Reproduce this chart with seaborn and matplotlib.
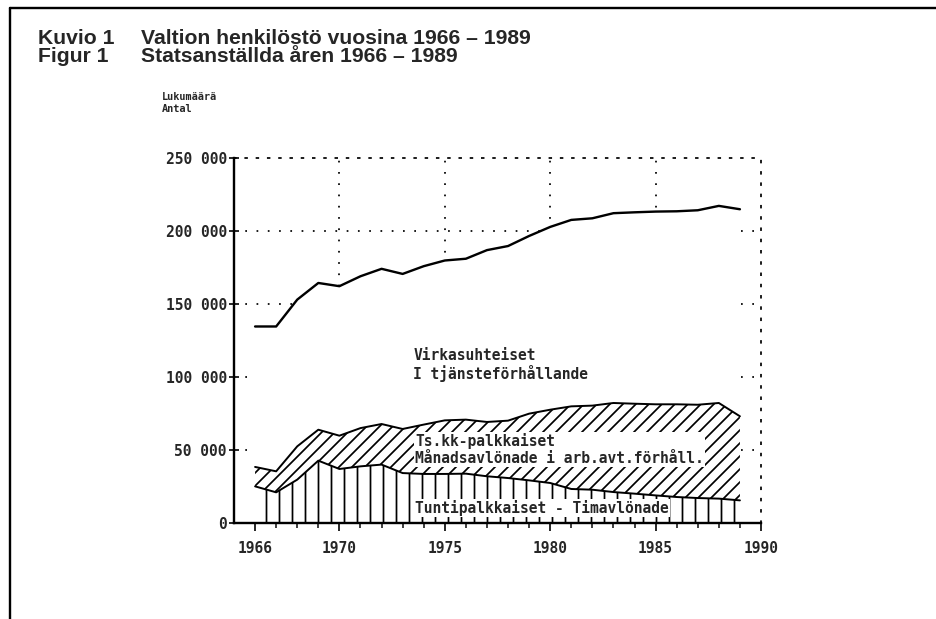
import matplotlib
matplotlib.use("Agg")
import matplotlib.pyplot as plt
import seaborn as sns
import pandas as pd
from matplotlib.lines import Line2D
from matplotlib.ticker import FixedLocator

# ---- data ----
years = list(range(1966, 1990))
total = [134600, 134600, 153000, 164400, 162200, 169000, 174100, 170600,
         175900, 179800, 181000, 186900, 189700, 196600, 202800, 207600,
         208700, 212200, 212800, 213300, 213500, 214200, 217200, 214900]
hourly = [25100, 21000, 29700, 42700, 37000, 38800, 40000, 34200, 33600,
          33600, 33800, 32000, 30800, 29200, 27400, 23300, 22800, 21200,
          20100, 18900, 17800, 17100, 16700, 15500]
monthly = [13300, 14400, 22800, 21200, 22800, 26200, 27800, 30200, 33800,
           36700, 37000, 37200, 39300, 45700, 50200, 56600, 57600, 61000,
           61600, 62400, 63500, 63900, 65500, 57600]
year_ticks = [1966, 1970, 1975, 1980, 1985, 1990]
year_labels = ["1966", "1970", "1975", "1980", "1985", "1990"]
y_ticks = [0, 50000, 100000, 150000, 200000, 250000]
y_labels = ["0", "50 000", "100 000", "150 000", "200 000", "250 000"]

title_nums = ["Kuvio 1", "Figur 1"]
title_texts = ["Valtion henkilöstö vuosina 1966 – 1989",
               "Statsanställda åren 1966 – 1989"]
ylabel_text = "Lukumäärä\nAntal"
label_virka = ["Virkasuhteiset", "I tjänsteförhållande"]
label_month = "Ts.kk-palkkaiset\nMånadsavlönade i arb.avt.förhåll."
label_hour = "Tuntipalkkaiset - Timavlönade"

df = pd.DataFrame({"year": years, "total": total,
                   "hourly": hourly, "monthly": monthly})
df["stack_top"] = df["hourly"] + df["monthly"]

# ---- style ----
sns.set_style("white")
plt.rcParams["font.family"] = ["DejaVu Sans Mono", "DejaVu Sans"]
plt.rcParams["font.weight"] = "bold"
plt.rcParams["hatch.linewidth"] = 1.6
plt.rcParams["hatch.color"] = "black"

DPI = 78
fig = plt.figure(figsize=(936 / DPI, 619 / DPI), dpi=DPI)
ax = fig.add_axes([234 / 936, 1 - 523 / 619, (761 - 234) / 936, (523 - 158) / 619])

ax.set_xlim(1965, 1990)
ax.set_ylim(0, 250000)

dot = (0, (1, 5.5))
# dotted grid
for yv in [50000, 100000, 150000, 200000]:
    ax.axhline(yv, color="black", lw=1.6, ls=dot, zorder=0.5)
for xv in [1970, 1975, 1980, 1985]:
    ax.axvline(xv, color="black", lw=1.6, ls=dot, zorder=0.5)

# white area below the total line hides the grid
ax.fill_between(df["year"], 0, df["total"], color="white", lw=0, zorder=1)

# stacked hatched areas
ax.fill_between(df["year"], 0, df["hourly"], facecolor="white",
                edgecolor="black", hatch="|", lw=0, zorder=2)
ax.fill_between(df["year"], df["hourly"], df["stack_top"], facecolor="white",
                edgecolor="black", hatch="//", lw=0, zorder=2)

# edges
sns.lineplot(data=df, x="year", y="hourly", color="black", lw=1.8, ax=ax, zorder=3)
sns.lineplot(data=df, x="year", y="stack_top", color="black", lw=1.8, ax=ax, zorder=3)
sns.lineplot(data=df, x="year", y="total", color="black", lw=2.2, ax=ax, zorder=3)
ax.set_xlabel("")
ax.set_ylabel("")

# spines
for s in ["top", "right"]:
    ax.spines[s].set_linestyle(dot)
    ax.spines[s].set_linewidth(1.6)
    ax.spines[s].set_color("black")
for s in ["left", "bottom"]:
    ax.spines[s].set_linewidth(2.2)
    ax.spines[s].set_color("black")
    ax.spines[s].set_zorder(5)

# ticks
ax.set_yticks(y_ticks)
ax.set_yticklabels(y_labels)
ax.set_xticks(year_ticks)
ax.set_xticklabels(year_labels)
ax.xaxis.set_minor_locator(FixedLocator(list(range(1966, 1990))))
ax.tick_params(axis="y", direction="inout", length=9, width=1.8,
               labelsize=13.5, pad=2, left=True)
ax.tick_params(axis="x", which="major", direction="out", length=7, width=1.8,
               labelsize=13.5, pad=10, bottom=True)
ax.tick_params(axis="x", which="minor", direction="out", length=5, width=1.6,
               bottom=True)
for lab in ax.get_xticklabels() + ax.get_yticklabels():
    lab.set_fontweight("bold")

# area labels
txt_kw = dict(fontsize=13.5, fontweight="bold", family="DejaVu Sans Mono",
              ha="left", va="center", zorder=6)
ax.text(1973.5, 115000, label_virka[0], **txt_kw)
ax.text(1973.5, 102500, label_virka[1], **txt_kw)
ax.text(1973.6, 50200, label_month, linespacing=1.2,
        bbox=dict(facecolor="white", edgecolor="none", pad=1.0), **txt_kw)
ax.text(1973.6, 10200, label_hour,
        bbox=dict(facecolor="white", edgecolor="none", pad=1.0), **txt_kw)

# y label
fig.text(162 / 936, 1 - 103 / 619, ylabel_text, fontsize=9.5, fontweight="bold",
         family="DejaVu Sans Mono", ha="left", va="center", linespacing=1.3)

# titles
tfam = ["Liberation Sans", "DejaVu Sans"]
for i, (num, t) in enumerate(zip(title_nums, title_texts)):
    yy = 1 - (38 + 19 * i) / 619
    fig.text(38 / 936, yy, num, fontsize=19.5, fontweight="bold", family=tfam,
             ha="left", va="center")
    fig.text(141 / 936, yy, t, fontsize=19.5, fontweight="bold", family=tfam,
             ha="left", va="center")

# frame lines of the page
fig.add_artist(Line2D([10 / 936, 1.0], [1 - 8 / 619, 1 - 8 / 619],
                      transform=fig.transFigure, color="black", lw=2.2))
fig.add_artist(Line2D([10 / 936, 10 / 936], [0, 1 - 8 / 619],
                      transform=fig.transFigure, color="black", lw=2.2))

fig.savefig("out.png", dpi=DPI)
